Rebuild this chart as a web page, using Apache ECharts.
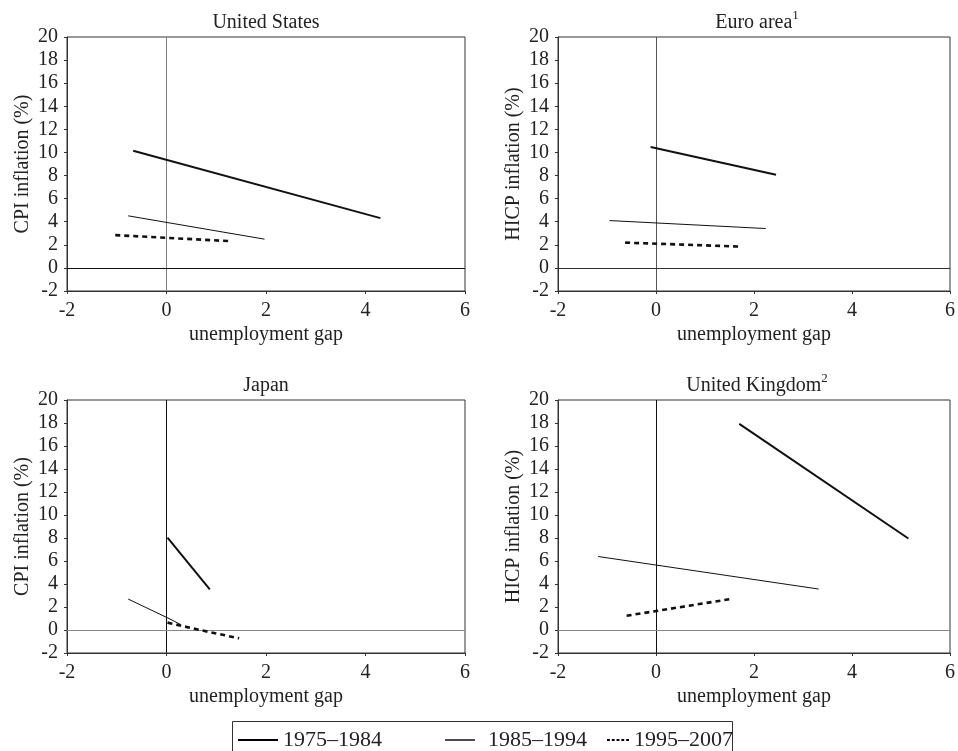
<!DOCTYPE html>
<html>
<head>
<meta charset="utf-8">
<script src="https://cdn.jsdelivr.net/npm/echarts@6/dist/echarts.min.js"></script>
<style>
html,body{margin:0;padding:0;background:#fff;}
#chart{width:958px;height:751px;}
</style>
</head>
<body>
<div id="chart"></div>
<script>
// ---- Data ----
const periods = ['1975–1984', '1985–1994', '1995–2007'];
const panelTitles = ['United States', 'Euro area', 'Japan', 'United Kingdom'];
const panelNotes = ['', '1', '', '2'];
const yAxisNames = ['CPI inflation (%)', 'HICP inflation (%)', 'CPI inflation (%)', 'HICP inflation (%)'];
const xAxisName = 'unemployment gap';

// [unemployment gap, inflation]
const us7584 = [[-0.67, 10.15], [4.30, 4.31]];
const us8594 = [[-0.77, 4.51], [1.97, 2.49]];
const us9507 = [[-1.03, 2.84], [1.31, 2.31]];

const ea7584 = [[-0.11, 10.47], [2.45, 8.07]];
const ea8594 = [[-0.95, 4.10], [2.24, 3.41]];
const ea9507 = [[-0.63, 2.19], [1.70, 1.85]];

const jp7584 = [[0.02, 8.03], [0.87, 3.54]];
const jp8594 = [[-0.77, 2.69], [0.00, 1.10], [0.28, 0.49]];
const jp9507 = [[0.02, 0.64], [0.67, 0.00], [1.46, -0.72]];

const uk7584 = [[1.70, 17.92], [5.15, 7.96]];
const uk8594 = [[-1.18, 6.39], [3.32, 3.56]];
const uk9507 = [[-0.60, 1.24], [1.52, 2.69]];

const panelData = [
  [us7584, us8594, us9507],
  [ea7584, ea8594, ea9507],
  [jp7584, jp8594, jp9507],
  [uk7584, uk8594, uk9507]
];

// ---- Styles / layout ----
const FONT = 'Liberation Serif';
const grids = [
  {left: 67, top: 37, width: 398, height: 254},
  {left: 558, top: 37, width: 398, height: 254},
  {left: 67, top: 400, width: 398, height: 253},
  {left: 558, top: 400, width: 398, height: 253}
];
const zeroColors = [
  {v: '#808080', h: '#111'},
  {v: '#555', h: '#333'},
  {v: '#111', h: '#888'},
  {v: '#111', h: '#888'}
];
const lineStyles = [
  {color: '#111', width: 2, type: 'solid'},
  {color: '#111', width: 1, type: 'solid'},
  {color: '#111', width: 2.6, type: [5, 4]}
];

const titles = grids.map((g, i) => ({
  text: panelNotes[i] ? '{a|' + panelTitles[i] + '}{s|' + panelNotes[i] + '}' : '{a|' + panelTitles[i] + '}',
  left: g.left + g.width / 2,
  top: g.top - 28,
  textAlign: 'center',
  padding: 0,
  textStyle: {
    fontWeight: 'normal',
    rich: {
      a: {fontFamily: FONT, fontSize: 20, fontWeight: 'normal', color: '#222', lineHeight: 28},
      s: {fontFamily: FONT, fontSize: 13, fontWeight: 'normal', color: '#222', verticalAlign: 'top', lineHeight: 12}
    }
  }
}));

const xAxes = grids.map((g, i) => ({
  type: 'value', gridIndex: i, min: -2, max: 6, interval: 2,
  name: xAxisName, nameLocation: 'middle', nameGap: 34,
  nameTextStyle: {fontFamily: FONT, fontSize: 20, color: '#222'},
  axisLine: {show: true, onZero: false, lineStyle: {color: '#333', width: 1}},
  axisTick: {show: true, length: 3, lineStyle: {color: '#333'}},
  axisLabel: {fontFamily: FONT, fontSize: 20, color: '#222', margin: 10},
  splitLine: {show: false}
}));

const yAxes = grids.map((g, i) => ({
  type: 'value', gridIndex: i, min: -2, max: 20, interval: 2,
  name: yAxisNames[i], nameLocation: 'middle', nameGap: 34, nameRotate: 90,
  nameTextStyle: {fontFamily: FONT, fontSize: 20, color: '#222'},
  axisLine: {show: true, onZero: false, lineStyle: {color: '#333', width: 1}},
  axisTick: {show: true, length: 3, lineStyle: {color: '#333'}},
  axisLabel: {fontFamily: FONT, fontSize: 20, color: '#222', margin: 9},
  splitLine: {show: false}
}));

const series = [];
panelData.forEach((sets, gi) => {
  sets.forEach((d, si) => {
    const s = {
      type: 'line', name: periods[si], xAxisIndex: gi, yAxisIndex: gi,
      data: d, symbol: 'none', showSymbol: false, smooth: false,
      lineStyle: Object.assign({}, lineStyles[si]),
      itemStyle: {color: '#111'},
      z: 5
    };
    if (si === 0) {
      s.markLine = {
        silent: true, symbol: 'none', animation: false,
        label: {show: false},
        lineStyle: {type: 'solid', width: 1},
        data: [
          {xAxis: 0, lineStyle: {color: zeroColors[gi].v, type: 'solid', width: 1}},
          {yAxis: 0, lineStyle: {color: zeroColors[gi].h, type: 'solid', width: 1}}
        ],
        z: 1
      };
    }
    series.push(s);
  });
});

const legendPos = [
  {left: 238, itemWidth: 40, itemHeight: 2, icon: 'rect'},
  {left: 445, itemWidth: 30, itemHeight: 1.4, icon: 'rect', pad: 8},
  {left: 607, itemWidth: 22, itemHeight: 2,
   icon: 'path://M0,0h3v2h-3z M5,0h3v2h-3z M10,0h3v2h-3z M15,0h3v2h-3z M20,0h3v2h-3z'}
];
const legends = periods.map((p, i) => ({
  data: [{name: p, icon: legendPos[i].icon}], left: legendPos[i].left, top: 729, orient: 'horizontal',
  itemWidth: legendPos[i].itemWidth, itemHeight: legendPos[i].itemHeight, itemGap: 0, padding: 0,
  selectedMode: false,
  itemStyle: {color: '#000', borderWidth: 0},
  lineStyle: {inactiveWidth: 0},
  textStyle: {fontFamily: FONT, fontSize: 22, color: '#222', padding: [0, 0, 0, legendPos[i].pad || 0]}
}));

const chart = echarts.init(document.getElementById('chart'), null, {renderer: 'canvas'});
chart.setOption({
  animation: false,
  backgroundColor: '#fff',
  title: titles,
  grid: grids.map(g => Object.assign({show: true, borderColor: '#333', borderWidth: 1, backgroundColor: 'transparent'}, g)),
  xAxis: xAxes,
  yAxis: yAxes,
  legend: legends,
  series: series,
  graphic: [{
    type: 'rect', silent: true,
    shape: {x: 232.5, y: 721.5, width: 500, height: 40},
    style: {fill: 'none', stroke: '#333', lineWidth: 1}
  }]
});
</script>
</body>
</html>
